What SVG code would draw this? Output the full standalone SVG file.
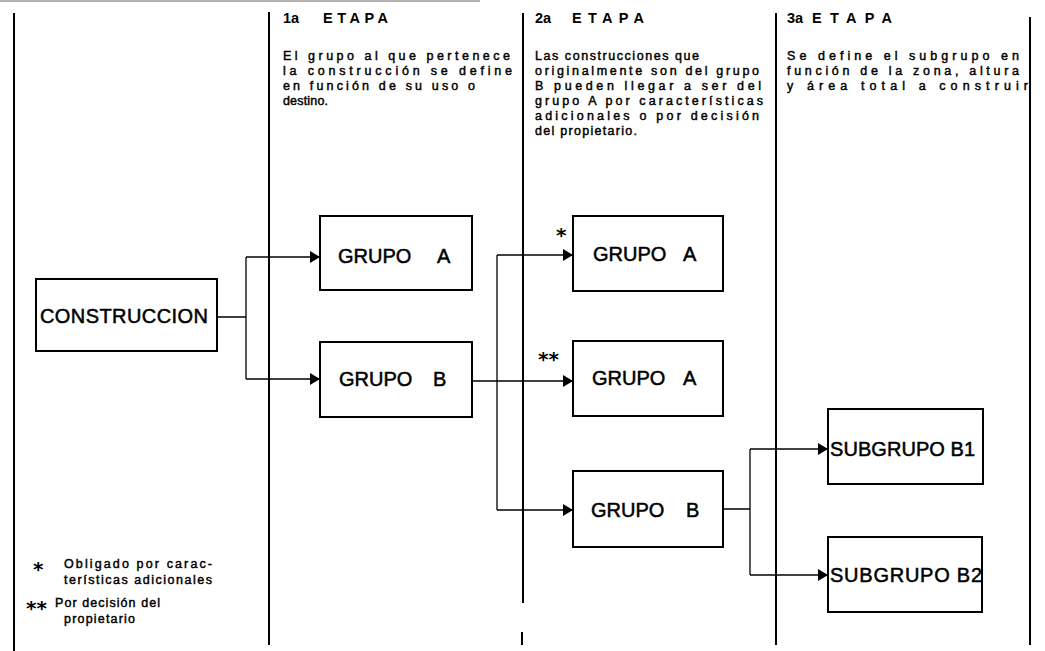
<svg xmlns="http://www.w3.org/2000/svg" width="1045" height="651" viewBox="0 0 1045 651">
<style>
.col{stroke:#000;stroke-width:2;fill:none}
.box{fill:#fff;stroke:#000;stroke-width:2}
.bt{font-family:"Liberation Sans",Arial,sans-serif;font-size:20px;fill:#000;stroke:#000;stroke-width:0.5}
.hd{font-family:"Liberation Sans",Arial,sans-serif;font-size:14.5px;font-weight:bold;fill:#000}
.tx{font-family:"Liberation Sans",Arial,sans-serif;font-size:12.5px;fill:#000;stroke:#000;stroke-width:0.45}
.st{font-family:"DejaVu Sans",sans-serif;font-size:20px;font-weight:bold;fill:#000}
.cn{stroke:#000;stroke-width:1.3;fill:none}
</style>
<defs>
<marker id="ah" viewBox="0 0 10 12" refX="10" refY="6" markerWidth="10" markerHeight="12" markerUnits="userSpaceOnUse" orient="auto">
<path d="M0,0 L10,6 L0,12 z" fill="#000"/>
</marker>
</defs>
<rect width="1045" height="651" fill="#fff"/>
<line x1="0" y1="1" x2="480" y2="1" stroke="#9a9a9a" stroke-width="1.5"/>
<g id="columns">
<line class="col" x1="14" y1="13" x2="14" y2="651"/>
<line class="col" x1="269" y1="12" x2="269" y2="645"/>
<line class="col" x1="523" y1="13" x2="523" y2="603"/>
<line class="col" x1="522" y1="632" x2="522" y2="645"/>
<line class="col" x1="776" y1="13" x2="776" y2="645"/>
<line class="col" x1="1030" y1="17" x2="1030" y2="645"/>
</g>
<g id="etapa1">
<text class="hd" x="283" y="23">1a</text>
<text class="hd" x="323" y="23" textLength="65">ETAPA</text>
<text class="tx" x="283" y="60" textLength="227">El grupo al que pertenece</text>
<text class="tx" x="283" y="75" textLength="229">la construcción se define</text>
<text class="tx" x="283" y="90" textLength="192">en función de su uso o</text>
<text class="tx" x="283" y="105" textLength="45">destino.</text>
</g>
<g id="etapa2">
<text class="hd" x="535" y="23">2a</text>
<text class="hd" x="572" y="23" textLength="72">ETAPA</text>
<text class="tx" x="535" y="60" textLength="164">Las construcciones que</text>
<text class="tx" x="535" y="75" textLength="224">originalmente son del grupo</text>
<text class="tx" x="535" y="90" textLength="226">B pueden llegar a ser del</text>
<text class="tx" x="535" y="105" textLength="228">grupo A por características</text>
<text class="tx" x="535" y="120" textLength="224">adicionales o por decisión</text>
<text class="tx" x="535" y="135" textLength="102">del propietario.</text>
</g>
<g id="etapa3">
<text class="hd" x="787" y="23">3a</text>
<text class="hd" x="812" y="23" textLength="80">ETAPA</text>
<text class="tx" x="787" y="60" textLength="232">Se define el subgrupo en</text>
<text class="tx" x="787" y="75" textLength="232">función de la zona, altura</text>
<text class="tx" x="787" y="90" textLength="241">y área total a construir</text>
</g>
<g id="construccion">
<rect class="box" x="36" y="279" width="181" height="72"/>
<text class="bt" x="40" y="323" textLength="168">CONSTRUCCION</text>
</g>
<g id="grupoA1">
<rect class="box" x="320" y="216" width="152" height="74"/>
<text class="bt" x="338" y="263">GRUPO</text><text class="bt" x="437" y="263">A</text>
</g>
<g id="grupoB1">
<rect class="box" x="320" y="342" width="152" height="75"/>
<text class="bt" x="339" y="386">GRUPO</text><text class="bt" x="433" y="386">B</text>
</g>
<g id="grupoA2">
<rect class="box" x="573" y="216" width="150" height="75"/>
<text class="bt" x="593" y="261">GRUPO</text><text class="bt" x="683" y="261">A</text>
<text class="st" x="556" y="242">*</text>
</g>
<g id="grupoA3">
<rect class="box" x="573" y="341" width="150" height="75"/>
<text class="bt" x="592" y="385">GRUPO</text><text class="bt" x="683" y="385">A</text>
<text class="st" x="538" y="366">**</text>
</g>
<g id="grupoB2">
<rect class="box" x="573" y="471" width="150" height="76"/>
<text class="bt" x="591" y="517">GRUPO</text><text class="bt" x="686" y="517">B</text>
</g>
<g id="subB1">
<rect class="box" x="828" y="409" width="155" height="75"/>
<text class="bt" x="830" y="456" textLength="145">SUBGRUPO B1</text>
</g>
<g id="subB2">
<rect class="box" x="828" y="537" width="154" height="75"/>
<text class="bt" x="830" y="582" textLength="152">SUBGRUPO B2</text>
</g>
<g id="connectors">
<path class="cn" d="M217,317 H246 M246,257 V379"/>
<path class="cn" d="M246,257 H320" marker-end="url(#ah)"/>
<path class="cn" d="M246,379 H320" marker-end="url(#ah)"/>
<path class="cn" d="M472,381 H573" marker-end="url(#ah)"/>
<path class="cn" d="M497,255 V510"/>
<path class="cn" d="M497,255 H573" marker-end="url(#ah)"/>
<path class="cn" d="M497,510 H573" marker-end="url(#ah)"/>
<path class="cn" d="M723,509 H750 M750,449 V575"/>
<path class="cn" d="M750,449 H828" marker-end="url(#ah)"/>
<path class="cn" d="M750,575 H828" marker-end="url(#ah)"/>
</g>
<g id="legend">
<text class="st" x="33" y="576">*</text>
<text class="tx" x="64" y="568" textLength="148">Obligado por carac-</text>
<text class="tx" x="64" y="584" textLength="148">terísticas adicionales</text>
<text class="st" x="26" y="615">**</text>
<text class="tx" x="55" y="607" textLength="105">Por decisión del</text>
<text class="tx" x="64" y="623" textLength="71">propietario</text>
</g>
</svg>
